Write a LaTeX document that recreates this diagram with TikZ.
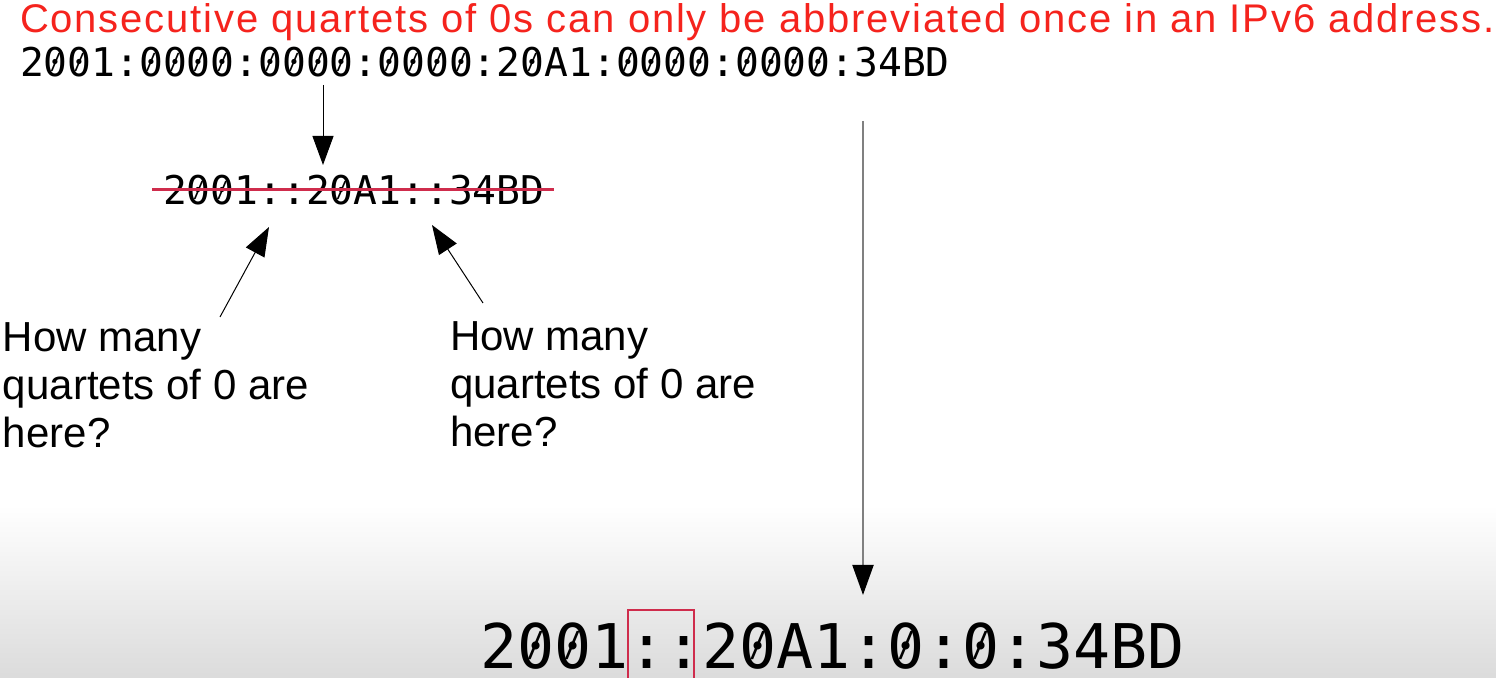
\documentclass[tikz,border=0pt]{standalone}
\usepackage{fontspec}
\usepackage{graphicx}
\setmainfont{Liberation Sans}
\setmonofont{DejaVu Sans Mono}
\newfontfamily\headfont{Liberation Sans}[LetterSpace=4.6]
\usetikzlibrary{arrows.meta,positioning,calc}
\definecolor{warn}{HTML}{F5231D}
\definecolor{crossred}{HTML}{CF2C4C}
% slashed zero
\newcommand{\zs}{\ooalign{0\cr\hidewidth\raisebox{0.2em}{\scalebox{0.5}[0.56]{/}}\hidewidth\cr}}

\begin{document}
\begin{tikzpicture}[
  x=0.5pt, y=-0.5pt,
  every node/.style={inner sep=0pt, outer sep=0pt},
  head/.style={font=\headfont\fontsize{20pt}{24pt}\selectfont, text=warn},
  addr/.style={font=\ttfamily\fontsize{19.8pt}{24pt}\selectfont},
  bigaddr/.style={font=\ttfamily\fontsize{30.8pt}{36pt}\selectfont},
  ask/.style={font=\fontsize{21pt}{24pt}\selectfont, align=left},
  arr/.style={-{Triangle[length=14.5pt, width=10.5pt]}, line width=0.5pt},
  longarr/.style={-{Triangle[length=15pt, width=10.5pt, color=black]}, line width=1pt, draw=black!50},
  strike/.style={draw=crossred, line width=1.5pt},
  keepbox/.style={draw=crossred, line width=1.3pt},
]
\useasboundingbox (0,0) rectangle (1496,678);
\fill[white] (0,0) rectangle (1496,506);
\shade[top color=white, bottom color=black!14] (0,505) rectangle (1496,678);

\node[head, anchor=base west] (rule) at (20,33) {Consecutive quartets of 0s can only be abbreviated once in an IPv6 address.};
\node[addr, anchor=base west] (full) at (20,77) {2\zs\zs1:\zs\zs\zs\zs:\zs\zs\zs\zs:\zs\zs\zs\zs:2\zs A1:\zs\zs\zs\zs:\zs\zs\zs\zs:34BD};
\node[addr, anchor=base west] (wrong) at (163,205) {2\zs\zs1::2\zs A1::34BD};
\node[bigaddr, anchor=base west] (right) at (480,669) {2\zs\zs1::2\zs A1:\zs:\zs:34BD};
\node[ask, anchor=base west] (askl) at (3,448) {How many\\quartets of 0 are\\here?};
\node[ask, anchor=base west] (askr) at (450,447) {How many\\quartets of 0 are\\here?};

% crossed out
\draw[strike] (152,190) -- (554,190);
% the :: that is kept
\draw[keepbox] (628,690) |- (694,610) -- (694,690);

\coordinate (fullout) at (323,85);
\coordinate (wrongin) at (323,165);
\coordinate (asklout) at (220,317);
\coordinate (wrongl) at (269,227);
\coordinate (askrout) at (483,303);
\coordinate (wrongr) at (432,225);
\coordinate (longout) at (863,121);
\coordinate (rightin) at (863,595);

\draw[arr] (fullout) -- (wrongin);
\draw[arr] (asklout) -- (wrongl);
\draw[arr] (askrout) -- (wrongr);
\draw[longarr] (longout) -- (rightin);
\end{tikzpicture}
\end{document}
